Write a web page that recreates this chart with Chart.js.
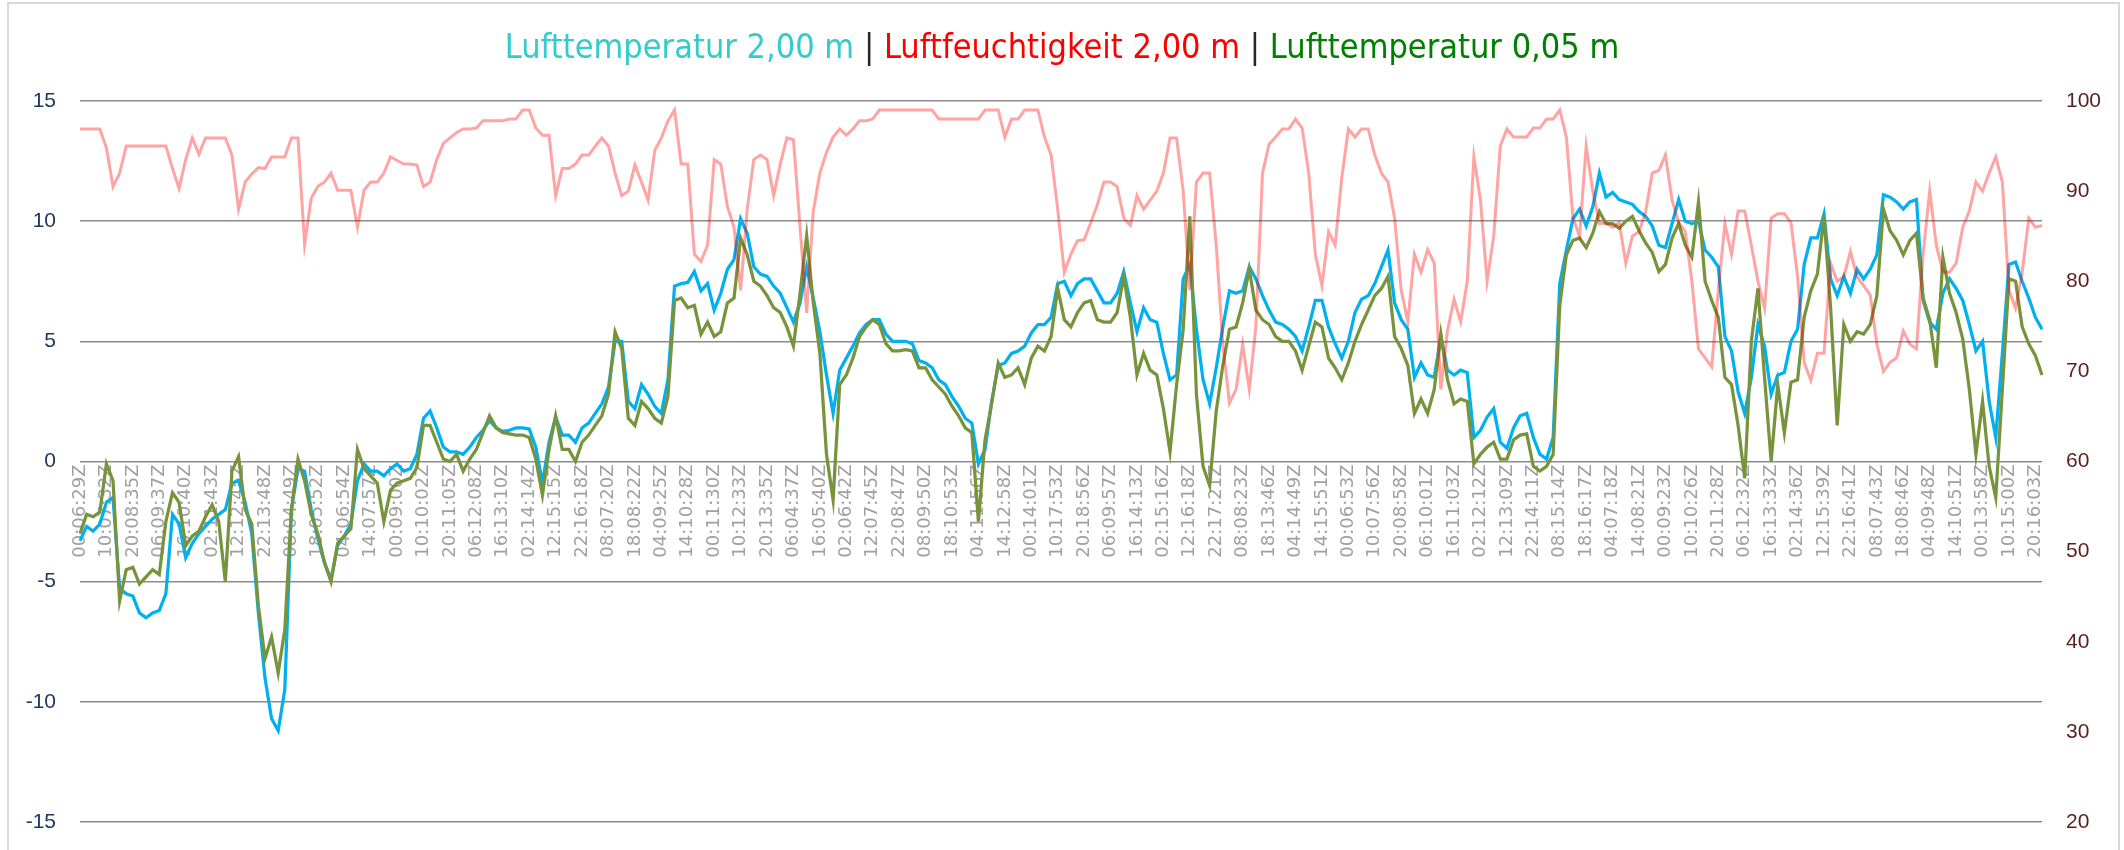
<!DOCTYPE html>
<html>
<head>
<meta charset="utf-8">
<script src="https://cdn.jsdelivr.net/npm/chart.js@4.4.1/dist/chart.umd.min.js"></script>
<style>
  html, body { margin: 0; padding: 0; background: #fff; overflow: hidden; }
  #wrap { position: relative; width: 2124px; height: 850px; }
  #frame { position: absolute; left: 7px; top: 2px; width: 2109px; height: 900px; border: 2px solid #d9d9d9; }
  #title {
    position: absolute; left: 0; top: 27px; width: 2124px; text-align: center;
    font-family: "Liberation Sans Narrow", "DejaVu Sans Condensed", "Open Sans", sans-serif;
    font-size: 34px; line-height: 38px; white-space: nowrap;
  }
  #title .sep { color: #262626; }
  canvas { position: absolute; left: 0; top: 0; }
</style>
</head>
<body>
<div id="wrap">
  <div id="frame"></div>
  <canvas id="myChart" width="2124" height="850"></canvas>
  <div id="title"><span style="color:#33cccc">Lufttemperatur 2,00 m</span> <span class="sep">|</span> <span style="color:#ff0000">Luftfeuchtigkeit 2,00 m</span> <span class="sep">|</span> <span style="color:#008000">Lufttemperatur 0,05 m</span></div>
</div>
<script>
// Zeitstempel an der x-Achse (jeder 4. Messpunkt)
const tickLabels = [
  '00:06:29Z', '10:07:32Z', '20:08:35Z', '06:09:37Z', '16:10:40Z', '02:11:43Z', '12:12:45Z', '22:13:48Z',
  '08:04:49Z', '18:05:52Z', '04:06:54Z', '14:07:57Z', '00:09:00Z', '10:10:02Z', '20:11:05Z', '06:12:08Z',
  '16:13:10Z', '02:14:14Z', '12:15:15Z', '22:16:18Z', '08:07:20Z', '18:08:22Z', '04:09:25Z', '14:10:28Z',
  '00:11:30Z', '10:12:33Z', '20:13:35Z', '06:04:37Z', '16:05:40Z', '02:06:42Z', '12:07:45Z', '22:08:47Z',
  '08:09:50Z', '18:10:53Z', '04:11:56Z', '14:12:58Z', '00:14:01Z', '10:17:53Z', '20:18:56Z', '06:09:57Z',
  '16:14:13Z', '02:15:16Z', '12:16:18Z', '22:17:21Z', '08:08:23Z', '18:13:46Z', '04:14:49Z', '14:15:51Z',
  '00:06:53Z', '10:07:56Z', '20:08:58Z', '06:10:01Z', '16:11:03Z', '02:12:12Z', '12:13:09Z', '22:14:11Z',
  '08:15:14Z', '18:16:17Z', '04:07:18Z', '14:08:21Z', '00:09:23Z', '10:10:26Z', '20:11:28Z', '06:12:32Z',
  '16:13:33Z', '02:14:36Z', '12:15:39Z', '22:16:41Z', '08:07:43Z', '18:08:46Z', '04:09:48Z', '14:10:51Z',
  '00:13:58Z', '10:15:00Z', '20:16:03Z'
];
const pointsPerTick = 4;

// Lufttemperatur 2,00 m (°C)
const temp200 = [
  -3.3, -2.7, -2.9, -2.6, -1.7, -1.5, -5.3, -5.5, -5.6, -6.3,
  -6.5, -6.3, -6.2, -5.5, -2.2, -2.6, -4.0, -3.4, -3.0, -2.7,
  -2.4, -2.2, -2.0, -0.9, -0.8, -1.7, -3.0, -6.3, -9.0, -10.7,
  -11.2, -9.5, -2.0, -0.3, -0.4, -2.0, -3.2, -4.2, -4.9, -3.5,
  -3.1, -2.6, -0.8, -0.1, -0.4, -0.4, -0.6, -0.3, -0.1, -0.4,
  -0.3, 0.3, 1.8, 2.1, 1.4, 0.6, 0.4, 0.4, 0.3, 0.6,
  1.0, 1.3, 1.7, 1.4, 1.25, 1.3, 1.4, 1.4, 1.35, 0.6,
  -0.9, 0.8, 1.85, 1.1, 1.1, 0.8, 1.4, 1.6, 2.0, 2.4,
  3.1, 5.0, 5.0, 2.5, 2.2, 3.2, 2.8, 2.3, 2.0, 3.4,
  7.3, 7.4, 7.45, 7.9, 7.1, 7.4, 6.3, 7.0, 8.0, 8.4,
  10.1, 9.5, 8.1, 7.8, 7.7, 7.3, 7.0, 6.4, 5.8, 6.6,
  8.1, 6.8, 5.4, 3.6, 2.0, 3.8, 4.3, 4.8, 5.35, 5.7,
  5.9, 5.9, 5.3, 5.0, 5.0, 5.0, 4.9, 4.2, 4.1, 3.9,
  3.4, 3.2, 2.7, 2.3, 1.8, 1.6, -0.1, 0.5, 2.5, 4.0,
  4.1, 4.5, 4.6, 4.8, 5.35, 5.7, 5.7, 6.0, 7.4, 7.5,
  6.9, 7.4, 7.6, 7.6, 7.1, 6.6, 6.6, 7.0, 7.9, 6.6,
  5.4, 6.4, 5.9, 5.8, 4.5, 3.4, 3.6, 7.6, 8.2, 5.5,
  3.4, 2.4, 3.9, 5.6, 7.1, 7.0, 7.1, 8.1, 7.6, 6.9,
  6.3, 5.8, 5.7, 5.5, 5.2, 4.6, 5.6, 6.7, 6.7, 5.6,
  4.9, 4.3, 5.0, 6.2, 6.75, 6.9, 7.4, 8.1, 8.8, 6.6,
  5.9, 5.5, 3.5, 4.1, 3.6, 3.5, 5.2, 3.8, 3.6, 3.8,
  3.7, 1.0, 1.3, 1.85, 2.2, 0.8, 0.55, 1.4, 1.9, 2.0,
  1.0, 0.3, 0.1, 1.0, 7.4, 8.8, 10.1, 10.5, 9.8, 10.6,
  12.0, 11.0, 11.2, 10.9, 10.8, 10.7, 10.4, 10.2, 9.8, 9.0,
  8.9, 9.9, 10.9, 10.0, 9.9, 10.0, 8.8, 8.5, 8.1, 5.2,
  4.6, 2.9, 2.0, 3.5, 5.7, 4.8, 2.8, 3.6, 3.7, 5.0,
  5.5, 8.2, 9.3, 9.3, 10.3, 7.6, 6.9, 7.7, 7.0, 8.0,
  7.6, 8.0, 8.6, 11.1, 11.0, 10.8, 10.5, 10.8, 10.9, 6.7,
  5.8, 5.5, 7.0, 7.6, 7.2, 6.7, 5.7, 4.6, 5.0, 2.5,
  1.0, 4.5, 8.2, 8.3, 7.5, 6.8, 6.0, 5.5
];

// Luftfeuchtigkeit 2,00 m (%)
const humidity200 = [
  96.9, 96.9, 96.9, 96.9, 94.8, 90.5, 92, 95, 95, 95,
  95, 95, 95, 95, 92.5, 90.3, 93.5, 95.9, 94.1, 95.9,
  95.9, 95.9, 95.9, 94, 88, 91, 91.9, 92.6, 92.5, 93.8,
  93.8, 93.8, 95.9, 95.9, 84.1, 89.2, 90.5, 91, 92, 90.1,
  90.1, 90.1, 86, 90.1, 91, 91, 92, 93.8, 93.4, 93,
  93, 92.9, 90.5, 91, 93.5, 95.3, 95.9, 96.5, 96.9, 96.9,
  97, 97.8, 97.8, 97.8, 97.8, 98, 98, 99, 99, 97,
  96.2, 96.2, 89.5, 92.5, 92.5, 93, 94, 94, 95, 95.9,
  95, 92, 89.5, 90, 92.9, 91, 89, 94.5, 95.9, 97.8,
  99, 93, 93, 83, 82.2, 84, 93.5, 93, 88.3, 86,
  79, 88, 93.5, 94, 93.5, 89.5, 93, 95.9, 95.7, 86,
  76.5, 87.8, 92, 94.3, 96, 96.9, 96.2, 96.9, 97.8, 97.8,
  98, 99, 99, 99, 99, 99, 99, 99, 99, 99,
  98, 98, 98, 98, 98, 98, 98, 99, 99, 99,
  96, 98, 98, 99, 99, 99, 96, 94, 88, 81,
  83, 84.5, 84.6, 86.5, 88.5, 91, 91, 90.5, 87, 86.2,
  89.5, 88, 89, 90, 92, 95.9, 95.9, 90, 79, 91,
  92, 92, 84, 73, 66.5, 68, 73, 68, 75, 92,
  95.2, 96, 96.9, 96.9, 98, 97, 92, 83, 79.5, 85.5,
  84, 91.5, 96.9, 96, 96.9, 96.9, 94, 92, 91, 87,
  79, 75.5, 83, 81, 83.5, 82, 68, 74.5, 78, 75.5,
  80, 93.8, 89, 80, 85, 95, 96.9, 96, 96, 96,
  97, 97, 98, 98, 99, 96, 87, 85, 95, 90,
  86.4, 86.5, 86, 86.5, 82, 85, 85.5, 87.7, 92, 92.3,
  94, 89, 86.5, 85.5, 80, 72.5, 71.5, 70.5, 79, 86.4,
  83, 87.8, 87.8, 84, 80, 77, 87, 87.5, 87.5, 86.5,
  80.5, 71, 69, 72, 72, 82, 80, 80.5, 83.3, 80.5,
  79.5, 78.5, 73, 70, 71, 71.5, 74.5, 73, 72.5, 83,
  90, 84, 81, 81, 82, 86, 87.8, 91, 90, 92,
  93.8, 91, 79, 77, 81, 87, 86, 86.2
];

// Lufttemperatur 0,05 m (°C)
const temp005 = [
  -3.0, -2.2, -2.3, -2.1, -0.1, -0.8, -5.8, -4.5, -4.4, -5.1,
  -4.8, -4.5, -4.7, -2.5, -1.3, -1.7, -3.5, -3.1, -2.9, -2.3,
  -1.8, -2.5, -5.0, -0.4, 0.2, -2.0, -2.6, -6.0, -8.2, -7.3,
  -8.8, -7.0, -2.0, 0.1, -0.8, -2.2, -3.0, -4.2, -5.0, -3.4,
  -3.1, -2.8, 0.5, -0.3, -0.6, -0.9, -2.5, -1.2, -0.9, -0.8,
  -0.7, -0.25, 1.5, 1.5, 0.8, 0.1, 0.0, 0.3, -0.4, 0.1,
  0.5, 1.2, 1.9, 1.4, 1.2, 1.15, 1.1, 1.1, 1.0, 0.1,
  -1.4, 0.5, 1.9, 0.5, 0.5, 0.0, 0.8, 1.1, 1.5, 1.9,
  2.8, 5.4, 4.7, 1.8, 1.5, 2.5, 2.2, 1.8, 1.6, 2.7,
  6.7, 6.8, 6.4, 6.5, 5.3, 5.8, 5.2, 5.4, 6.6, 6.8,
  9.3, 8.6, 7.5, 7.3, 6.9, 6.4, 6.2, 5.6, 4.8, 7.0,
  9.4, 6.6, 4.5, 0.3, -1.6, 3.2, 3.6, 4.3, 5.2, 5.6,
  5.9, 5.7, 4.9, 4.6, 4.6, 4.65, 4.6, 3.9, 3.9, 3.4,
  3.1, 2.8, 2.3, 1.9, 1.4, 1.2, -2.5, 0.9, 2.4, 4.1,
  3.5, 3.6, 3.9, 3.2, 4.3, 4.8, 4.6, 5.2, 7.2, 5.9,
  5.6, 6.2, 6.6, 6.7, 5.9, 5.8, 5.8, 6.2, 7.7, 6.0,
  3.6, 4.5, 3.8, 3.6, 2.2, 0.4, 3.2, 5.5, 10.2, 2.8,
  -0.2, -1.0, 2.1, 4.0, 5.5, 5.6, 6.6, 8.0, 6.3, 5.9,
  5.7, 5.2, 5.0, 5.0, 4.6, 3.8, 4.8, 5.8, 5.6, 4.3,
  3.9, 3.4, 4.1, 5.0, 5.7, 6.3, 6.9, 7.2, 7.7, 5.2,
  4.7, 4.0, 2.0, 2.6, 2.0, 3.0, 5.3, 3.4, 2.4, 2.6,
  2.5, -0.1, 0.3, 0.6, 0.8, 0.1, 0.1, 0.9, 1.1, 1.15,
  -0.2, -0.4, -0.2, 0.3, 6.5, 8.6, 9.2, 9.3, 8.9, 9.5,
  10.4, 9.9, 9.9, 9.7, 10.0, 10.2, 9.6, 9.1, 8.7, 7.9,
  8.2, 9.3, 9.9, 9.0, 8.5, 10.8, 7.5, 6.7, 6.0, 3.5,
  3.2, 1.5, -0.7, 5.0, 7.2, 3.5, 0.0, 3.2, 1.2, 3.3,
  3.4, 6.0, 7.1, 7.8, 10.2, 6.4, 1.5, 5.7, 5.0, 5.4,
  5.3, 5.7, 6.9, 10.5, 9.6, 9.2, 8.6, 9.2, 9.5, 6.8,
  5.9, 3.9, 8.5, 7.0, 6.2, 5.1, 3.0, 0.3, 2.5, -0.2,
  -1.5, 3.0, 7.6, 7.5, 5.6, 4.9, 4.4, 3.6
];

// Kategorien: Zeitstempel nur an jedem 4. Punkt beschriften
const labels = temp200.map((v, i) => (i % pointsPerTick === 0 ? (tickLabels[i / pointsPerTick] || '') : ''));

Chart.defaults.font.family = '"DejaVu Sans", Verdana, sans-serif';

// feste Achsenbreite, ohne zusätzlichen Innenabstand oben/unten
function fixAxis(width) {
  return (s) => {
    s.width = width;
    s.paddingTop = 0;
    s.paddingBottom = 0;
  };
}

const data = {
  labels: labels,
  datasets: [
    {
      label: 'Lufttemperatur 2,00 m',
      data: temp200,
      yAxisID: 'y',
      borderColor: '#00b0f0',
      borderWidth: 3.25,
      pointRadius: 0,
      tension: 0,
      order: 3
    },
    {
      label: 'Lufttemperatur 0,05 m',
      data: temp005,
      yAxisID: 'y',
      borderColor: '#77933c',
      borderWidth: 3.25,
      pointRadius: 0,
      tension: 0,
      order: 2
    },
    {
      label: 'Luftfeuchtigkeit 2,00 m',
      data: humidity200,
      yAxisID: 'y1',
      borderColor: 'rgba(255, 0, 0, 0.36)',
      borderWidth: 3,
      pointRadius: 0,
      tension: 0,
      order: 1
    }
  ]
};

const config = {
  type: 'line',
  data: data,
  options: {
    responsive: false,
    animation: false,
    devicePixelRatio: 1,
    layout: { padding: { left: 0, right: 0, top: 101, bottom: 28 } },
    plugins: {
      legend: { display: false },
      title: { display: false },
      tooltip: { enabled: false }
    },
    scales: {
      x: {
        type: 'category',
        position: { y: 0 },
        offset: false,
        grid: { display: false, drawTicks: false },
        border: { display: false },
        ticks: {
          autoSkip: false,
          minRotation: 90,
          maxRotation: 90,
          padding: 3,
          color: '#a0a0a0',
          font: { size: 18 }
        }
      },
      y: {
        position: 'left',
        min: -15,
        max: 15,
        afterFit: fixAxis(80),
        grid: { color: '#8c8c8c', lineWidth: 1.5, drawTicks: false },
        border: { display: false },
        ticks: { stepSize: 5, padding: 24, color: '#1f3864', font: { family: '"Liberation Sans", Arial, sans-serif', size: 21 } }
      },
      y1: {
        position: 'right',
        min: 20,
        max: 100,
        afterFit: fixAxis(82),
        grid: { display: false, drawTicks: false },
        border: { display: false },
        ticks: { stepSize: 10, padding: 24, color: '#5c1f1f', font: { family: '"Liberation Sans", Arial, sans-serif', size: 21 } }
      }
    }
  }
};

const myChart = new Chart(document.getElementById('myChart'), config);
</script>
</body>
</html>
